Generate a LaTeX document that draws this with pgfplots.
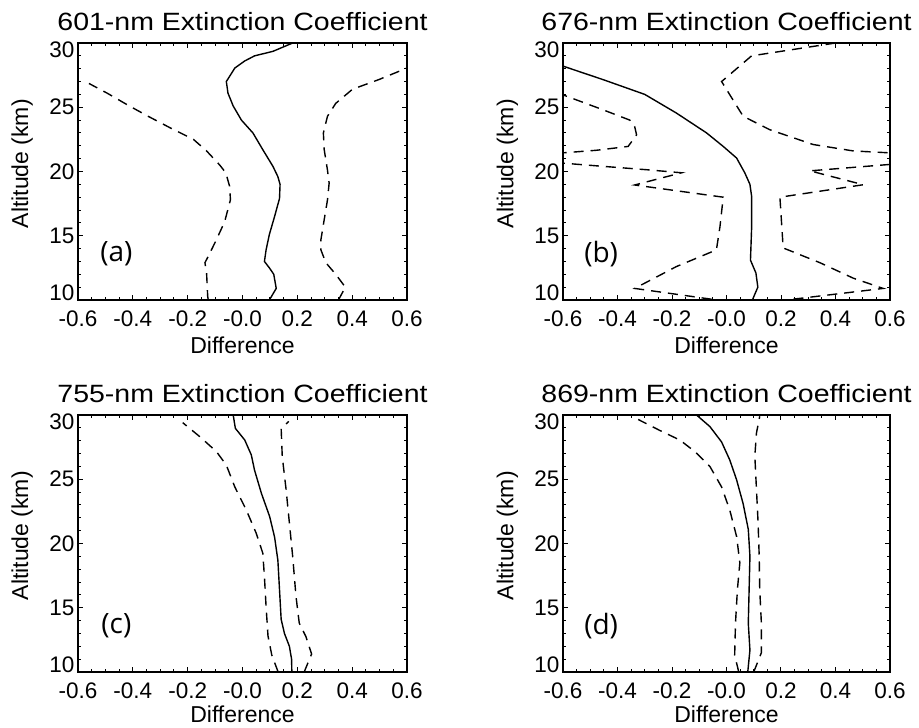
\documentclass[border=0pt]{standalone}
\usepackage{fontspec}
\setmainfont{Liberation Sans}
\newfontfamily\titlefont[FakeStretch=1.14]{Liberation Sans}
\newfontfamily\panelfont{Open Sans}
\usepackage{pgfplots}
\pgfplotsset{compat=1.18}
\tikzset{plabel/.style={font=\panelfont\fontsize{28}{32}\selectfont}}
\pgfplotsset{
 panel/.style={
  scale only axis, width=329pt, height=257pt, anchor=south west,
  xmin=-0.6, xmax=0.6, ymin=10, ymax=30,
  xtick={-0.6,-0.4,-0.2,0,0.2,0.4,0.6},
  xticklabels={-0.6,-0.4,-0.2,-0.0,0.2,0.4,0.6},
  ytick={10,15,20,25,30},
  yticklabels={\raisebox{7pt}[\height][\depth]{10},15,20,25,\raisebox{-7pt}[\height][\depth]{30}},
  minor x tick num=3, minor y tick num=4,
  tick align=inside, xtick pos=both, ytick pos=both,
  major tick length=5pt, minor tick length=3pt,
  axis line style={line width=1.6pt},
  every tick/.style={black, line width=1pt},
  tick label style={font=\fontsize{22.5}{26}\selectfont},
  xticklabel style={yshift=-7pt},
  xlabel={Difference}, ylabel={Altitude (km)},
  label style={font=\fontsize{23}{27}\selectfont},
  xlabel style={at={(axis description cs:0.5,-0.175)}, anchor=center},
  ylabel style={at={(axis description cs:-0.17,0.53)}, anchor=center},
  title style={font=\titlefont\fontsize{25}{29}\selectfont, at={(axis description cs:0.5,1)}, anchor=south, yshift=3pt},
 },
 lower/.style={xlabel style={at={(axis description cs:0.5,-0.165)}}},
 solid line/.style={black, line width=1.4pt, no marks},
 dash line/.style={black, line width=1.4pt, no marks, dash pattern=on 10pt off 7pt},
}
\begin{document}
\begin{tikzpicture}
\path[use as bounding box] (0pt,0pt) rectangle (919pt,728pt);

% (a)
\begin{axis}[panel, at={(78pt,428pt)}, title={601-nm Extinction Coefficient}]
\addplot[solid line] coordinates {(0.098,10) (0.123,10.9) (0.114,12.0) (0.098,12.5) (0.080,13.0) (0.086,13.9) (0.098,15.1) (0.117,16.5) (0.135,17.9) (0.137,19.0) (0.129,19.6) (0.111,20.4) (0.074,21.7) (0.038,23.0) (-0.004,24.0) (-0.034,25.1) (-0.053,26.1) (-0.059,27.0) (-0.028,28.05) (0.008,28.6) (0.044,29.0) (0.111,29.35) (0.183,30)};
\addplot[dash line] coordinates {(-0.125,10) (-0.127,10.3) (-0.131,12.1) (-0.137,12.9) (-0.119,13.65) (-0.095,14.7) (-0.065,16.1) (-0.044,17.8) (-0.047,18.85) (-0.061,19.9) (-0.083,20.5) (-0.131,21.6) (-0.179,22.5) (-0.264,23.4) (-0.349,24.35) (-0.421,25.2) (-0.494,26.1) (-0.56,26.85)};
\addplot[dash line] coordinates {(0.35,10) (0.375,11.0) (0.340,12.0) (0.304,12.9) (0.286,13.9) (0.286,14.7) (0.298,16.25) (0.310,17.8) (0.316,19.1) (0.310,20.1) (0.298,21.7) (0.295,23.0) (0.310,24.3) (0.340,25.3) (0.401,26.4) (0.497,27.15) (0.6,28.05) (0.62,28.15)};
\node[plabel] at (axis cs:-0.46,13.6) {(a)};
\end{axis}

% (b)
\begin{axis}[panel, width=327pt, at={(563pt,428pt)}, title={676-nm Extinction Coefficient}]
\addplot[solid line] coordinates {(0.095,10) (0.115,11.0) (0.108,12.1) (0.088,13.1) (0.092,15.5) (0.092,18.1) (0.086,19.0) (0.067,19.9) (0.037,21.05) (-0.012,21.95) (-0.073,23.0) (-0.184,24.55) (-0.30,26.0) (-0.453,27.15) (-0.6,28.2) (-0.62,28.27)};
\addplot[dash line] coordinates {(-0.62,26.12) (-0.453,24.8) (-0.355,24.0) (-0.337,23.5) (-0.33,22.85) (-0.361,21.95) (-0.478,21.65) (-0.6,21.45) (-0.7,21.05) (-0.6,20.65) (-0.453,20.4) (-0.294,20.14) (-0.165,19.9) (-0.337,18.95) (-0.012,18.0) (-0.024,15.7) (-0.037,13.9) (-0.184,12.6) (-0.337,10.9) (-0.035,10)};
\addplot[dash line] coordinates {(0.40,30) (0.092,29.0) (-0.018,27.0) (0.061,24.3) (0.159,23.25) (0.318,22.1) (0.465,21.6) (0.6,21.45) (0.7,21.0) (0.6,20.55) (0.306,20.05) (0.502,18.97) (0.196,18.0) (0.208,14.05) (0.343,12.9) (0.465,11.7) (0.575,10.9) (0.22,10)};
\node[plabel] at (axis cs:-0.46,13.6) {(b)};
\end{axis}

% (c)
\begin{axis}[panel, lower, at={(78pt,56pt)}, title={755-nm Extinction Coefficient}]
\addplot[solid line] coordinates {(0.18,10) (0.179,11.0) (0.171,12.0) (0.153,13.0) (0.141,14.1) (0.135,16.4) (0.129,18.7) (0.117,20.5) (0.099,22.1) (0.069,23.9) (0.044,25.7) (0.032,26.9) (0.008,28.06) (-0.026,28.96) (-0.034,30)};
\addplot[dash line] coordinates {(0.13,10) (0.107,11.3) (0.093,12.8) (0.086,15.1) (0.08,17.4) (0.074,19.25) (0.05,20.8) (0.014,22.6) (-0.028,24.4) (-0.059,26.1) (-0.095,27.15) (-0.155,28.3) (-0.218,29.4)};
\addplot[dash line] coordinates {(0.225,10) (0.252,11.4) (0.231,12.77) (0.207,13.8) (0.195,15.9) (0.183,19.0) (0.171,21.6) (0.159,24.2) (0.145,26.76) (0.141,28.96) (0.169,29.5)};
\node[plabel] at (axis cs:-0.46,13.6) {(c)};
\end{axis}

% (d)
\begin{axis}[panel, lower, width=327pt, at={(563pt,56pt)}, title={869-nm Extinction Coefficient}]
\addplot[solid line] coordinates {(0.078,10) (0.086,11.7) (0.080,13.8) (0.083,16.4) (0.086,19.0) (0.080,21.1) (0.061,23.1) (0.037,24.96) (0.012,26.5) (-0.018,27.9) (-0.061,29.1) (-0.110,30)};
\addplot[dash line] coordinates {(0.045,10) (0.03,11.3) (0.033,13.8) (0.04,16.4) (0.049,18.5) (0.037,20.55) (0.012,22.6) (-0.018,24.4) (-0.061,26.0) (-0.116,27.15) (-0.171,28.05) (-0.245,28.8) (-0.324,29.65)};
\addplot[dash line] coordinates {(0.10,10) (0.128,11.5) (0.128,13.8) (0.122,16.4) (0.12,19.0) (0.116,21.6) (0.110,24.2) (0.104,26.8) (0.110,28.6) (0.122,29.9)};
\node[plabel] at (axis cs:-0.46,13.6) {(d)};
\end{axis}
\end{tikzpicture}
\end{document}
